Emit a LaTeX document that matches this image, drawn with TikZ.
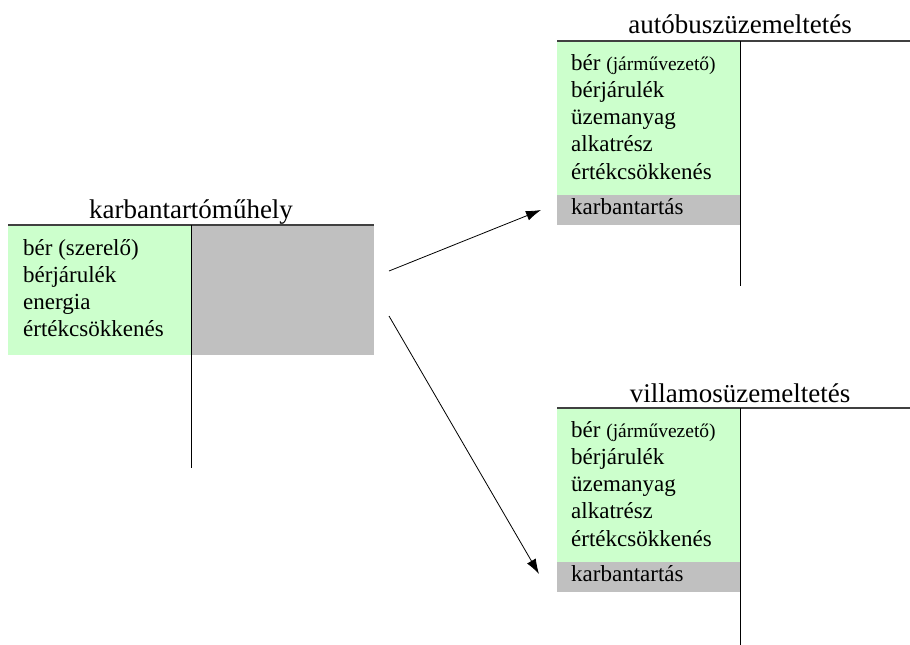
\documentclass[tikz,border=0pt]{standalone}
\usepackage{fontspec}
\setmainfont{Liberation Serif}[Ligatures=TeX]
\usetikzlibrary{arrows,arrows.meta,positioning}

\definecolor{zold}{HTML}{CCFFCC}
\definecolor{szurke}{HTML}{C0C0C0}

\begin{document}
\begin{tikzpicture}[x=1pt, y=-1pt, >={Latex[length=15pt,width=10pt]},
    doboz/.style={rectangle, inner sep=0pt, outer sep=0pt, anchor=north west},
    cim/.style={inner sep=0pt, anchor=base, font=\rmfamily\fontsize{27}{30}\selectfont},
    tetel/.style={inner sep=0pt, anchor=base west, font=\rmfamily\fontsize{23}{27}\selectfont},
    vonal/.style={line width=1.2pt, black!75},
    tengely/.style={line width=0.9pt, black}]
  \newcommand{\kicsi}[1]{{\fontsize{19.5}{22}\selectfont #1}}
  \useasboundingbox (0,0) rectangle (910,645);

    % Karbantartóműhely
    \node [doboz, fill=zold, minimum width=183pt, minimum height=130pt] (kzold) at (8,225) {};
    \node [doboz, fill=szurke, minimum width=183pt, minimum height=130pt] (kszurke) at (191,225) {};
    \node [cim] (kcim) at (191,218) {karbantartóműhely};
    \node [tetel] (k1) at (23,255) {bér (szerelő)};
    \node [tetel] (k2) at (23,282) {bérjárulék};
    \node [tetel] (k3) at (23,309) {energia};
    \node [tetel] (k4) at (23,336) {értékcsökkenés};
    \draw [vonal] (8,225) -- (374,225);
    \draw [tengely] (191,225) -- (191,468);

    % Autóbuszüzemeltetés
    \node [doboz, fill=zold, minimum width=183pt, minimum height=154pt] (azold) at (557,41) {};
    \node [doboz, fill=szurke, minimum width=183pt, minimum height=30pt] (aszurke) at (557,195) {};
    \node [cim] (acim) at (740,33) {autóbuszüzemeltetés};
    \node [tetel] (a1) at (571,70) {bér \kicsi{(járművezető)}};
    \node [tetel] (a2) at (571,97) {bérjárulék};
    \node [tetel] (a3) at (571,124) {üzemanyag};
    \node [tetel] (a4) at (571,151) {alkatrész};
    \node [tetel] (a5) at (571,179) {értékcsökkenés};
    \node [tetel] (a6) at (571,214) {karbantartás};
    \draw [vonal] (557,41) -- (910,41);
    \draw [tengely] (740,41) -- (740,286);

    % Villamosüzemeltetés
    \node [doboz, fill=zold, minimum width=183pt, minimum height=154pt] (vzold) at (557,408) {};
    \node [doboz, fill=szurke, minimum width=183pt, minimum height=30pt] (vszurke) at (557,562) {};
    \node [cim] (vcim) at (740,402) {villamosüzemeltetés};
    \node [tetel] (v1) at (571,437) {bér \kicsi{(járművezető)}};
    \node [tetel] (v2) at (571,464) {bérjárulék};
    \node [tetel] (v3) at (571,491) {üzemanyag};
    \node [tetel] (v4) at (571,518) {alkatrész};
    \node [tetel] (v5) at (571,546) {értékcsökkenés};
    \node [tetel] (v6) at (571,581) {karbantartás};
    \draw [vonal] (557,408) -- (910,408);
    \draw [tengely] (740,408) -- (740,645);

    % Nyilak
    \coordinate (ki1) at (389,271);
    \coordinate (be1) at (541,210);
    \coordinate (ki2) at (389,316);
    \coordinate (be2) at (539,574);
    \draw [->, line width=0.8pt] (ki1) -- (be1);
    \draw [->, line width=0.8pt] (ki2) -- (be2);

\end{tikzpicture}
\end{document}
